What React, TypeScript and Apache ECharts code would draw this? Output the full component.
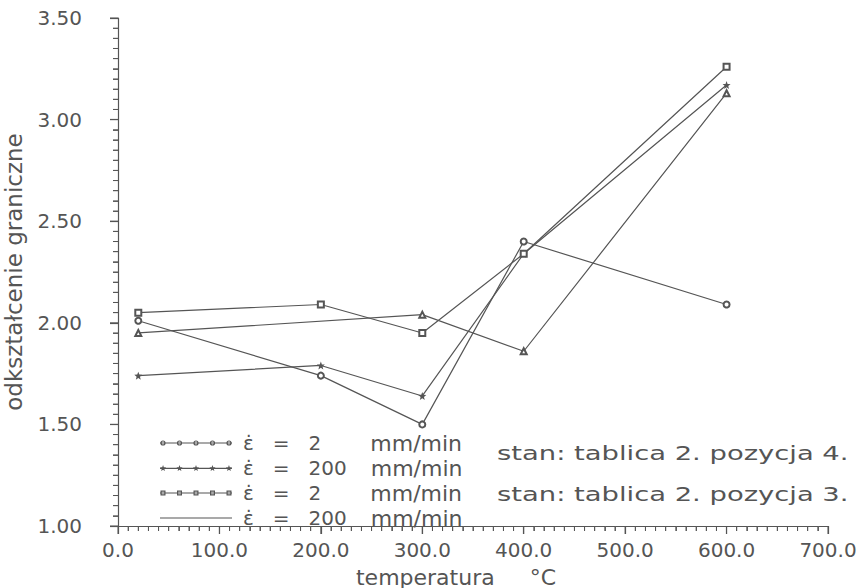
import React, { useEffect, useRef } from "react";
import * as echarts from "echarts";

// ---- data ----
const temps = [20, 200, 300, 400, 600];
const circleP4 = [2.01, 1.74, 1.5, 2.4, 2.09]; // ε̇ = 2 mm/min, pozycja 4
const starP4 = [1.74, 1.79, 1.64, 2.34, 3.17]; // ε̇ = 200 mm/min, pozycja 4
const squareP3 = [2.05, 2.09, 1.95, 2.34, 3.26]; // ε̇ = 2 mm/min, pozycja 3
const plainTemps = [20, 300, 400, 600];
const plainP3 = [1.95, 2.04, 1.86, 3.13]; // ε̇ = 200 mm/min, pozycja 3

const seriesNames = [
  "ε̇ = 2 mm/min (pozycja 4)",
  "ε̇ = 200 mm/min (pozycja 4)",
  "ε̇ = 2 mm/min (pozycja 3)",
  "ε̇ = 200 mm/min (pozycja 3)",
];
const rateLabels = ["2", "200", "2", "200"];
const yTicks = { min: 1.0, max: 3.5, interval: 0.5, minorStep: 0.05 };
const xTicks = { min: 0, max: 700, interval: 100, minorStep: 10 };
const stateNotes = ["stan: tablica 2. pozycja 4.", "stan: tablica 2. pozycja 3."];

const INK = "#555";
const FONT = "DejaVu Sans";

function starPath(cx: number, cy: number, R: number, r: number) {
  let d = "";
  for (let i = 0; i < 10; i++) {
    const a = -Math.PI / 2 + (i * Math.PI) / 5;
    const rad = i % 2 === 0 ? R : r;
    const x = (cx + rad * Math.cos(a)).toFixed(2);
    const y = (cy + rad * Math.sin(a)).toFixed(2);
    d += (i === 0 ? "M" : "L") + x + "," + y;
  }
  return d + "Z";
}
function ringPath(cx: number, cy: number, R: number, r: number) {
  return (
    `M${cx - R},${cy}A${R},${R} 0 1 1 ${cx + R},${cy}A${R},${R} 0 1 1 ${cx - R},${cy}Z` +
    `M${cx - r},${cy}A${r},${r} 0 1 0 ${cx + r},${cy}A${r},${r} 0 1 0 ${cx - r},${cy}Z`
  );
}
function squarePath(cx: number, cy: number, R: number, r: number) {
  return (
    `M${cx - R},${cy - R}L${cx + R},${cy - R}L${cx + R},${cy + R}L${cx - R},${cy + R}Z` +
    `M${cx - r},${cy - r}L${cx - r},${cy + r}L${cx + r},${cy + r}L${cx + r},${cy - r}Z`
  );
}
const W = 72;
const baseLine = `M0,4.4L${W},4.4L${W},5.6L0,5.6Z`;
const markerXs = [3, 19.5, 36, 52.5, 69];
const legendIcons = [
  "path://" + baseLine + markerXs.map((x) => ringPath(x, 5, 2.6, 1.4)).join(""),
  "path://" + baseLine + markerXs.map((x) => starPath(x, 5, 3.2, 1.4)).join(""),
  "path://" + baseLine + markerXs.map((x) => squarePath(x, 5, 2.5, 1.3)).join(""),
  "path://" + baseLine + `M0,0.2L0.2,0.2L0.2,0.4L0,0.4ZM0,9.6L0.2,9.6L0.2,9.8L0,9.8Z`,
];
const starSymbol = "path://" + starPath(10, 10, 10, 4.2);

// axis tick positions (axis decoration, in data units)
function tickValues(min: number, max: number, step: number) {
  const n = Math.round((max - min) / step);
  const out: number[] = [];
  for (let i = 0; i <= n; i++) out.push(+(min + i * step).toFixed(4));
  return out;
}
const xMinorValues = tickValues(xTicks.min, xTicks.max, xTicks.minorStep);
const yMinorValues = tickValues(yTicks.min, yTicks.max, yTicks.minorStep);
const isMajor = (v: number, min: number, interval: number) =>
  Math.abs((v - min) / interval - Math.round((v - min) / interval)) < 1e-6;

export default function App() {
  const ref = useRef<HTMLDivElement>(null);
  useEffect(() => {
    if (!ref.current) return;
    const chart = echarts.init(ref.current, undefined, { renderer: "svg" });
    const lineStyle = { color: INK, width: 1.2 };
    const mk = (xs: number[], ys: number[]) => xs.map((t, i) => [t, ys[i]]);
    chart.setOption({
      animation: false,
      backgroundColor: "#fff",
      textStyle: { fontFamily: FONT, color: INK },
      grid: { left: 118, right: 38, top: 18, bottom: 62, outerBoundsMode: "none" },
      xAxis: {
        type: "value",
        min: xTicks.min,
        max: xTicks.max,
        interval: xTicks.interval,
        name: "temperatura     °C",
        nameLocation: "middle",
        nameGap: 40,
        nameTextStyle: { fontSize: 22, color: INK, fontFamily: FONT, padding: [0, 34, 0, 0] },
        axisLine: { show: true, onZero: false, lineStyle: { color: INK, width: 1.2 } },
        axisTick: { show: true, length: 8, lineStyle: { color: INK, width: 1.2 } },
        minorTick: { show: true, splitNumber: 10, length: 5, lineStyle: { color: "#666" } },
        splitLine: { show: false },
        axisLabel: {
          fontSize: 20,
          color: INK,
          fontFamily: FONT,
          margin: 14,
          formatter: (v: number) => v.toFixed(1),
        },
      },
      yAxis: {
        type: "value",
        min: yTicks.min,
        max: yTicks.max,
        interval: yTicks.interval,
        name: "odkształcenie graniczne",
        nameLocation: "middle",
        nameGap: 93,
        nameTextStyle: { fontSize: 23, color: INK, fontFamily: FONT },
        axisLine: { show: true, onZero: false, lineStyle: { color: INK, width: 1.2 } },
        axisTick: { show: true, length: 8, lineStyle: { color: INK, width: 1.2 } },
        minorTick: { show: true, splitNumber: 10, length: 5, lineStyle: { color: "#666" } },
        splitLine: { show: false },
        axisLabel: {
          fontSize: 20,
          color: INK,
          fontFamily: FONT,
          margin: 36,
          formatter: (v: number) => v.toFixed(2),
        },
      },
      legend: {
        orient: "vertical",
        left: 155,
        top: 427,
        itemWidth: W,
        itemHeight: 10,
        itemGap: 3,
        data: seriesNames.map((n, i) => ({ name: n, icon: legendIcons[i] })),
        formatter: (name: string) => {
          const i = seriesNames.indexOf(name);
          const unit = rateLabels[i].length === 1 ? "u1" : "u3";
          return `{e|ε̇}{q|=}{v|${rateLabels[i]}}{${unit}|mm/min}`;
        },
        textStyle: {
          color: INK,
          fontFamily: FONT,
          fontSize: 20,
          lineHeight: 20,
          rich: {
            e: { fontSize: 20, fontFamily: FONT, color: INK, padding: [0, 0, 0, 6] },
            q: { fontSize: 20, fontFamily: FONT, color: INK, padding: [0, 0, 0, 19] },
            v: { fontSize: 20, fontFamily: FONT, color: INK, padding: [0, 0, 0, 19] },
            u1: { fontSize: 22, fontFamily: FONT, color: INK, padding: [0, 0, 0, 49] },
            u3: { fontSize: 22, fontFamily: FONT, color: INK, padding: [0, 0, 0, 24] },
          },
        },
        itemStyle: { color: INK },
        inactiveColor: INK,
        selectedMode: false,
      },
      graphic: stateNotes.map((t, i) => ({
        type: "text",
        x: 497,
        y: i === 0 ? 453 : 494,
        scaleX: 1.37,
        style: { text: t, font: `20px "${FONT}"`, fill: INK, verticalAlign: "middle", align: "left" },
      })),
      series: [
        {
          name: seriesNames[0],
          type: "line",
          data: mk(temps, circleP4),
          symbol: "emptyCircle",
          symbolSize: 6,
          lineStyle,
          itemStyle: { color: INK, borderWidth: 1.2 },
        },
        {
          name: seriesNames[1],
          type: "line",
          data: mk(temps, starP4),
          symbol: starSymbol,
          symbolSize: 8,
          lineStyle,
          itemStyle: { color: INK },
        },
        {
          name: seriesNames[2],
          type: "line",
          data: mk(temps, squareP3),
          symbol: "emptyRect",
          symbolSize: 6,
          lineStyle,
          itemStyle: { color: INK, borderWidth: 1.2 },
        },
        {
          name: seriesNames[3],
          type: "line",
          data: mk(plainTemps, plainP3),
          symbol: "emptyTriangle",
          symbolSize: 6,
          lineStyle,
          itemStyle: { color: INK, borderWidth: 1.2 },
        },
        {
          name: "axis ticks",
          type: "custom",
          silent: true,
          clip: false,
          z: 5,
          data: [[xTicks.min, yTicks.min]],
          renderItem: (_params: any, api: any) => {
            const children: any[] = [];
            xMinorValues.forEach((v) => {
              const p = api.coord([v, yTicks.min]);
              const len = isMajor(v, xTicks.min, xTicks.interval) ? 8 : 5;
              children.push({
                type: "line",
                shape: { x1: p[0], y1: p[1], x2: p[0], y2: p[1] + len },
                style: { stroke: INK, lineWidth: 1 },
              });
            });
            yMinorValues.forEach((v) => {
              const p = api.coord([xTicks.min, v]);
              const len = isMajor(v, yTicks.min, yTicks.interval) ? 8 : 5;
              children.push({
                type: "line",
                shape: { x1: p[0] - len, y1: p[1], x2: p[0], y2: p[1] },
                style: { stroke: INK, lineWidth: 1 },
              });
            });
            return { type: "group", children };
          },
        },
      ],
    });
    return () => chart.dispose();
  }, []);
  return <div ref={ref} style={{ position: "fixed", left: 0, top: 0, width: 866, height: 588 }} />;
}
